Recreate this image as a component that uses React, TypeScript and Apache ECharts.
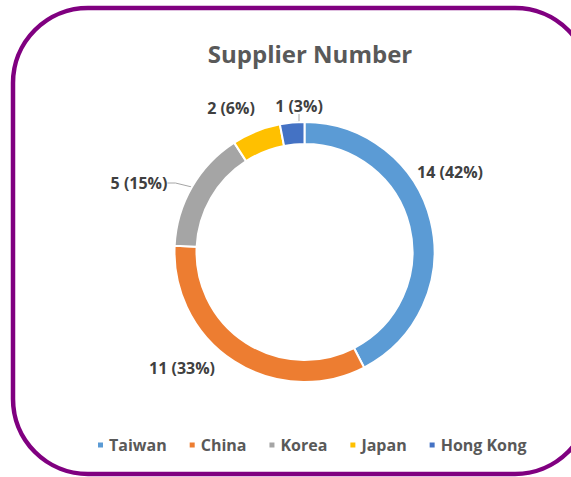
import React, { useEffect, useRef } from "react";
import * as echarts from "echarts";

const categories = ["Taiwan", "China", "Korea", "Japan", "Hong Kong"];
const values = [14, 11, 5, 2, 1];
const percents = [42, 33, 15, 6, 3];
const colors = ["#5B9BD5", "#ED7D31", "#A5A5A5", "#FFC000", "#4472C4"];
const showLeader = [false, false, true, false, true];
const labelSpots = [
  [450, 172],
  [182, 368],
  [139, 183],
  [231, 108],
  [299, 106],
];

const FONT = "'Open Sans', 'Noto Sans', sans-serif";

export default function App() {
  const ref = useRef<HTMLDivElement>(null);
  useEffect(() => {
    if (!ref.current) return;
    const chart = echarts.init(ref.current, undefined, { renderer: "svg" });
    chart.setOption({
      animation: false,
      backgroundColor: "#ffffff",
      title: {
        text: "Supplier Number",
        left: 305,
        textAlign: "center",
        top: 36,
        textStyle: { fontFamily: FONT, fontWeight: "bold", fontSize: 24, color: "#595959" },
      },
      legend: {
        top: 437,
        left: 96,
        padding: 0,
        icon: "rect",
        itemWidth: 7,
        itemHeight: 7,
        itemGap: 21,
        textStyle: { fontFamily: FONT, fontWeight: "bold", fontSize: 16, color: "#595959" },
        data: categories,
      },
      graphic: [
        {
          type: "rect",
          shape: { x: 13, y: 8, width: 577, height: 466, r: 75 },
          style: { fill: "none", stroke: "#800080", lineWidth: 4.5 },
          silent: true,
          z: 100,
        },
      ],
      series: [
        {
          type: "pie",
          center: [304.5, 252],
          radius: [108, 130],
          startAngle: 90,
          clockwise: true,
          itemStyle: { borderColor: "#ffffff", borderWidth: 2 },
          label: {
            show: true,
            position: "outside",
            fontFamily: FONT,
            fontWeight: "bold",
            fontSize: 16,
            color: "#404040",
            formatter: (p: any) => `${values[p.dataIndex]} (${percents[p.dataIndex]}%)`,
          },
          labelLine: { show: true, length: 8, length2: 8, lineStyle: { color: "#A6A6A6", width: 1 } },
          labelLayout: (p: any) => ({
            x: labelSpots[p.dataIndex][0],
            y: labelSpots[p.dataIndex][1],
            align: "center",
            verticalAlign: "middle",
          }),
          data: categories.map((c, i) => ({
            name: c,
            value: values[i],
            itemStyle: { color: colors[i] },
            labelLine: { show: showLeader[i] },
          })),
        },
      ],
    });
    return () => chart.dispose();
  }, []);
  return <div ref={ref} style={{ position: "fixed", left: 0, top: 0, width: 571, height: 477 }} />;
}
